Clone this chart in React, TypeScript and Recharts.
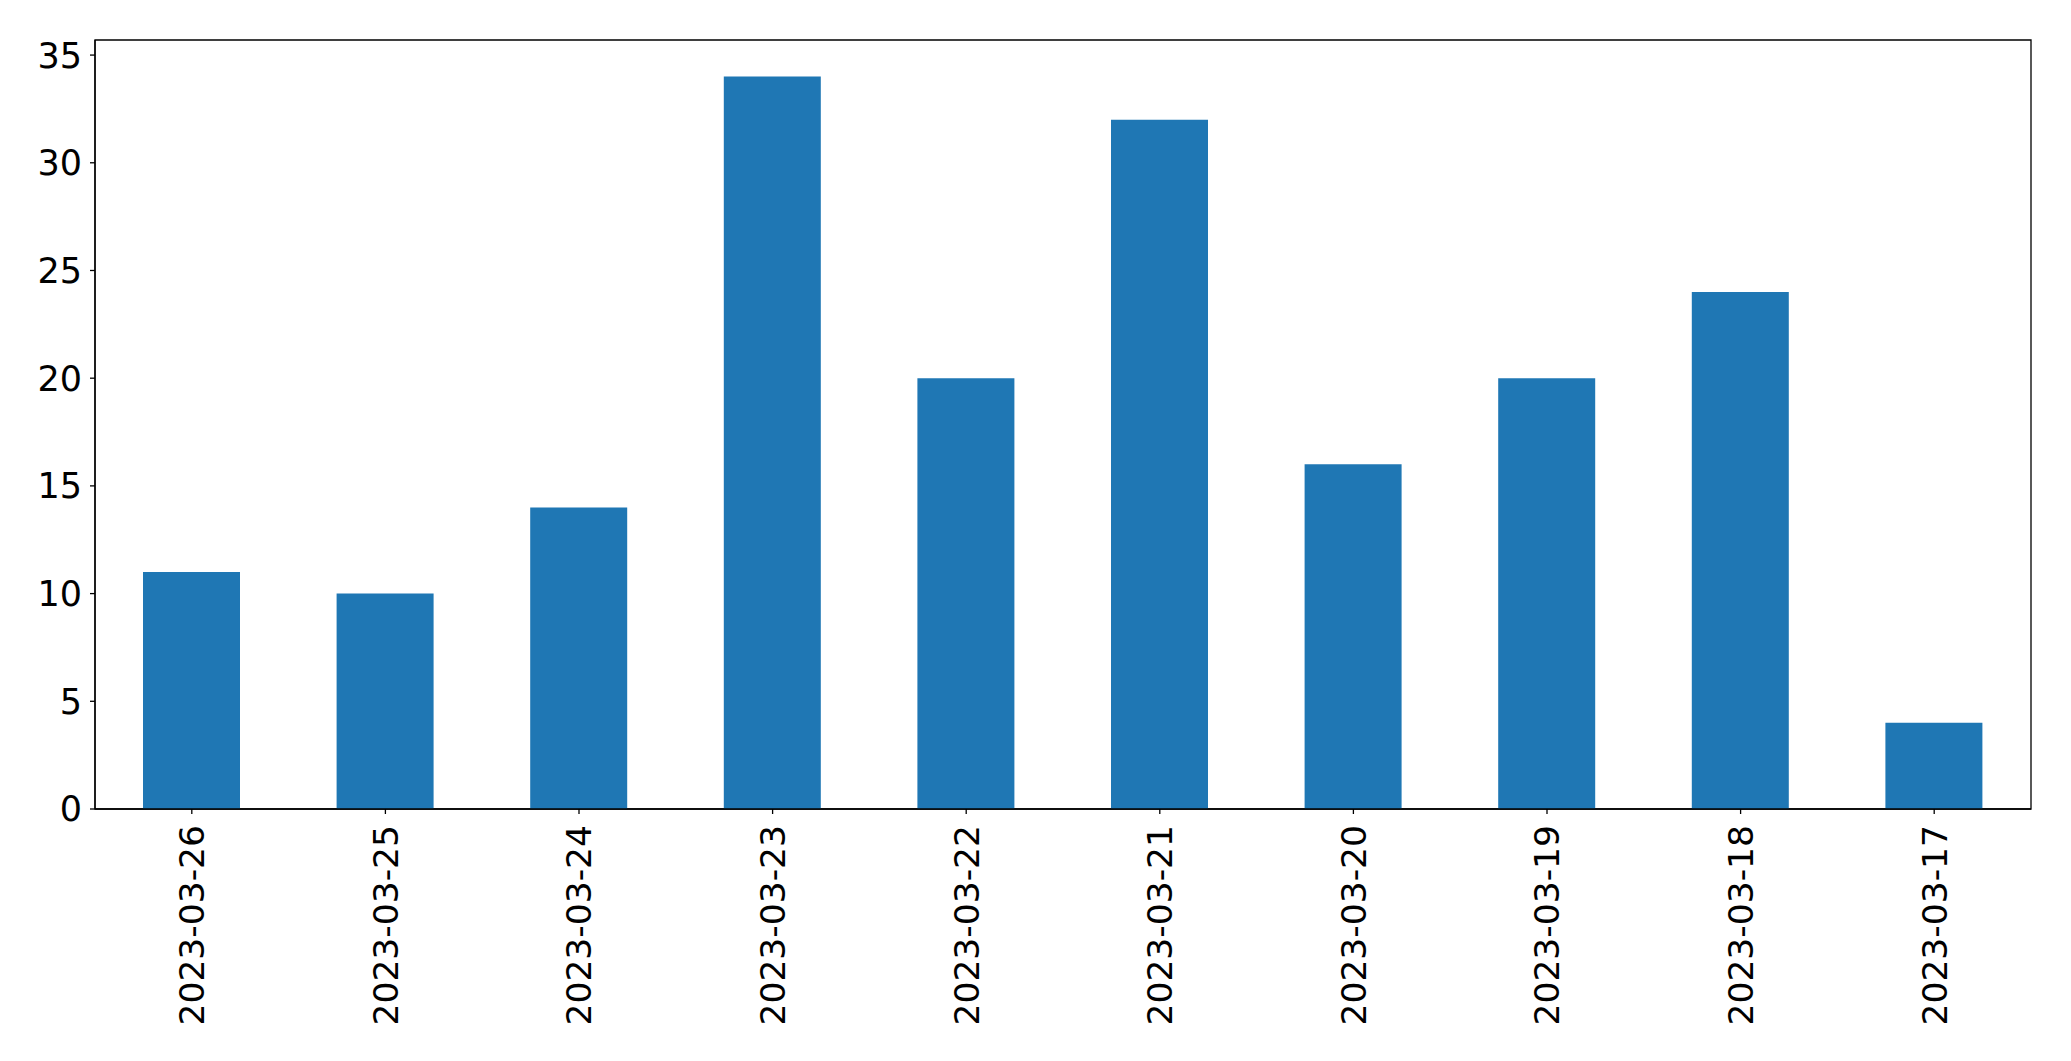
import { BarChart, Bar, XAxis, YAxis, ReferenceArea } from 'recharts';

const dates = [
  '2023-03-26', '2023-03-25', '2023-03-24', '2023-03-23', '2023-03-22',
  '2023-03-21', '2023-03-20', '2023-03-19', '2023-03-18', '2023-03-17',
];
const counts = [11, 10, 14, 34, 20, 32, 16, 20, 24, 4];
const yTicks = [0, 5, 10, 15, 20, 25, 30, 35];

const data = dates.map((date, i) => ({ date, count: counts[i] }));

const font = '"DejaVu Sans", sans-serif';

function DateTick(props: any) {
  const { x, y, payload } = props;
  return (
    <g transform={`translate(${x},${y})`}>
      <text
        transform="rotate(-90)"
        textAnchor="end"
        dy="0.36em"
        fontSize={34.5}
        fontFamily={font}
        fill="#000"
      >
        {payload.value}
      </text>
    </g>
  );
}

export default function App() {
  return (
    <div style={{ position: 'absolute', left: 0, top: 0, background: '#fff' }}>
      <BarChart
        width={2071}
        height={1061}
        data={data}
        margin={{ top: 40, right: 40, left: 0, bottom: 0 }}
        barCategoryGap="25%"
      >
        <XAxis
          dataKey="date"
          interval={0}
          height={252}
          axisLine={{ stroke: '#000', strokeWidth: 1.3 }}
          tickLine={{ stroke: '#000', strokeWidth: 1.3 }}
          tickSize={5}
          tickMargin={11}
          tick={<DateTick />}
        />
        <YAxis
          domain={[0, 35.7]}
          ticks={yTicks}
          width={95}
          axisLine={{ stroke: '#000', strokeWidth: 1.3 }}
          tickLine={{ stroke: '#000', strokeWidth: 1.3 }}
          tickSize={5}
          tickMargin={8}
          tick={{ fontSize: 35, fontFamily: font, fill: '#000' }}
        />
        <Bar dataKey="count" fill="#1f77b4" barSize={97} isAnimationActive={false} />
        <ReferenceArea
          y1={0}
          y2={35.7}
          fill="none"
          fillOpacity={0}
          stroke="#000"
          strokeWidth={1.3}
          ifOverflow="visible"
        />
      </BarChart>
    </div>
  );
}
